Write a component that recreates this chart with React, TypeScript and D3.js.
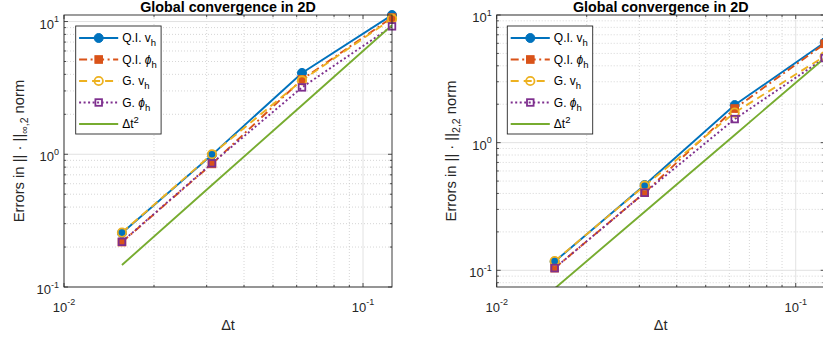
import React from 'react';
import * as d3 from 'd3';

// ---- data ----
const dt = [0.015625, 0.03125, 0.0625, 0.125];
const seriesNames = ['Q.I. v', 'Q.I. ϕ', 'G. v', 'G. ϕ', 'Δt'];
const seriesSub = ['h', 'h', 'h', 'h', ''];
const seriesSup = ['', '', '', '', '2'];
const colors = ['#0072BD', '#D95319', '#EDB120', '#7E2F8E', '#77AC30'];
const dashes = ['', '8,3.5,2,3.5', '8,5', '2,2.5', ''];
const markers = ['circleFilled', 'squareFilled', 'circleOpen', 'squareOpen', 'none'];

// left panel: || . ||_{inf,2}
const leftQIv = [0.255, 0.99, 4.1, 11.2];
const leftQIphi = [0.218, 0.846, 3.66, 10.7];
const leftGv = [0.257, 1.0, 3.6, 10.5];
const leftGphi = [0.219, 0.855, 3.19, 9.2];
const leftRef = [0.1465, 0.586, 2.34, 9.38];

// right panel: || . ||_{2,2}
const rightQIv = [0.117, 0.466, 1.97, 6.1];
const rightQIphi = [0.104, 0.406, 1.85, 5.95];
const rightGv = [0.118, 0.46, 1.72, 4.75];
const rightGphi = [0.104, 0.405, 1.53, 4.6];
const rightRef = [0.072, 0.288, 1.15, 4.6];

const xDomain = [0.01, 0.125];
const leftYDomain = [0.1, 11.2];
const rightYDomain = [0.074, 10];
const titleText = 'Global convergence in 2D';
const xLabelText = 'Δt';
const leftNormSub = '∞,2';
const rightNormSub = '2,2';

const FONT = '"Liberation Sans", Arial, Helvetica, sans-serif';
const AX = '#262626';

type PanelProps = {
  x0: number; x1: number; yTop: number; yBot: number;
  yDomain: number[]; data: number[][]; normSub: string;
  legendX: number; ylabelX: number; id: string;
};

function logTicks(domain: number[]) {
  const major: number[] = [];
  const minor: number[] = [];
  const lo = Math.floor(Math.log10(domain[0]));
  const hi = Math.ceil(Math.log10(domain[1]));
  for (let e = lo; e <= hi; e++) {
    for (let k = 1; k <= 9; k++) {
      const v = k * Math.pow(10, e);
      if (v < domain[0] * 0.9999 || v > domain[1] * 1.0001) continue;
      if (k === 1) major.push(v); else minor.push(v);
    }
  }
  return { major, minor };
}

function Marker({ type, x, y, color }: { type: string; x: number; y: number; color: string }) {
  if (type === 'circleFilled') return <circle cx={x} cy={y} r={4.5} fill={color} stroke={color} strokeWidth={1} />;
  if (type === 'squareFilled') return <rect x={x - 3.8} y={y - 3.8} width={7.6} height={7.6} fill={color} stroke={color} strokeWidth={1} />;
  if (type === 'circleOpen') return <circle cx={x} cy={y} r={4.2} fill="none" stroke={color} strokeWidth={1.8} />;
  if (type === 'squareOpen') return <rect x={x - 3.3} y={y - 3.3} width={6.6} height={6.6} fill="none" stroke={color} strokeWidth={1.8} />;
  return null;
}

function Panel(p: PanelProps) {
  const xs = d3.scaleLog().domain(xDomain).range([p.x0, p.x1]);
  const ys = d3.scaleLog().domain(p.yDomain).range([p.yBot, p.yTop]);
  const xt = logTicks(xDomain);
  const yt = logTicks(p.yDomain);
  const line = d3.line<number>().x((_, i) => xs(dt[i])).y((d) => ys(d));
  const cx = (p.x0 + p.x1) / 2;
  const cy = (p.yTop + p.yBot) / 2;
  const majL = 4, minL = 2.2;
  const lg = { x: p.legendX, y: 26, w: 85.4, h: 108 };
  const rowY = [38, 59.5, 81, 102.5, 124];
  return (
    <g>
      <defs>
        <clipPath id={'clip' + p.id}>
          <rect x={p.x0} y={p.yTop} width={p.x1 - p.x0} height={p.yBot - p.yTop} />
        </clipPath>
      </defs>
      {/* minor grid */}
      {xt.minor.map((v) => (
        <line key={'xm' + v} x1={xs(v)} x2={xs(v)} y1={p.yTop} y2={p.yBot} stroke="#c4c4c4" strokeWidth={0.7} strokeDasharray="1,2" />
      ))}
      {yt.minor.map((v) => (
        <line key={'ym' + v} x1={p.x0} x2={p.x1} y1={ys(v)} y2={ys(v)} stroke="#c4c4c4" strokeWidth={0.7} strokeDasharray="1,2" />
      ))}
      {/* major grid */}
      {xt.major.map((v) => (
        <line key={'xg' + v} x1={xs(v)} x2={xs(v)} y1={p.yTop} y2={p.yBot} stroke="#e2e2e2" strokeWidth={1} />
      ))}
      {yt.major.map((v) => (
        <line key={'yg' + v} x1={p.x0} x2={p.x1} y1={ys(v)} y2={ys(v)} stroke="#e2e2e2" strokeWidth={1} />
      ))}
      {/* ticks */}
      {xt.major.concat(xt.minor).map((v) => {
        const L = xt.major.includes(v) ? majL : minL;
        return (
          <g key={'xt' + v}>
            <line x1={xs(v)} x2={xs(v)} y1={p.yBot} y2={p.yBot - L} stroke={AX} strokeWidth={0.8} />
            <line x1={xs(v)} x2={xs(v)} y1={p.yTop} y2={p.yTop + L} stroke={AX} strokeWidth={0.8} />
          </g>
        );
      })}
      {yt.major.concat(yt.minor).map((v) => {
        const L = yt.major.includes(v) ? majL : minL;
        return (
          <g key={'yt' + v}>
            <line x1={p.x0} x2={p.x0 + L} y1={ys(v)} y2={ys(v)} stroke={AX} strokeWidth={0.8} />
            <line x1={p.x1} x2={p.x1 - L} y1={ys(v)} y2={ys(v)} stroke={AX} strokeWidth={0.8} />
          </g>
        );
      })}
      {/* series lines */}
      <g clipPath={`url(#clip${p.id})`}>
        {p.data.map((s, i) => (
          <path key={'l' + i} d={line(s) || ''} fill="none" stroke={colors[i]} strokeWidth={1.9}
            strokeDasharray={dashes[i] || undefined} />
        ))}
      </g>
      {/* markers */}
      {p.data.map((s, i) => (
        <g key={'m' + i}>
          {s.map((v, j) => (
            <Marker key={j} type={markers[i]} x={xs(dt[j])} y={ys(v)} color={colors[i]} />
          ))}
        </g>
      ))}
      {/* box */}
      <rect x={p.x0} y={p.yTop} width={p.x1 - p.x0} height={p.yBot - p.yTop} fill="none" stroke={AX} strokeWidth={0.9} />
      {/* tick labels */}
      {xt.major.map((v) => (
        <text key={'xl' + v} x={xs(v)} y={311.5} textAnchor="middle" fontFamily={FONT} fontSize={13} fill={AX}>
          10<tspan fontSize={9} dy={-6.5}>{Math.round(Math.log10(v))}</tspan>
        </text>
      ))}
      {yt.major.map((v) => (
        <text key={'yl' + v} x={p.x0 - 5} y={ys(v) + 7} textAnchor="end" fontFamily={FONT} fontSize={13} fill={AX}>
          10<tspan fontSize={9} dy={-6.5}>{Math.round(Math.log10(v))}</tspan>
        </text>
      ))}
      {/* title */}
      <text x={cx} y={12} textAnchor="middle" fontFamily={FONT} fontSize={14.3} fontWeight="bold" fill="#000">{titleText}</text>
      {/* x label */}
      <text x={cx} y={330} textAnchor="middle" fontFamily={FONT} fontSize={14.5} fill={AX}>{xLabelText}</text>
      {/* y label */}
      <text transform={`translate(${p.ylabelX},${cy}) rotate(-90)`} textAnchor="middle" fontFamily={FONT} fontSize={14.8} fill={AX}>
        Errors in || · ||<tspan fontSize={10.5} dy={4}>{p.normSub}</tspan><tspan dy={-4}> norm</tspan>
      </text>
      {/* legend */}
      <rect x={lg.x} y={lg.y} width={lg.w} height={lg.h} fill="#fff" stroke={AX} strokeWidth={0.9} />
      {seriesNames.map((nm, i) => {
        const ly = rowY[i];
        const l0 = lg.x + 3.4, l1 = lg.x + 42.5, mx = lg.x + 23;
        return (
          <g key={'lg' + i}>
            <line x1={l0} x2={l1} y1={ly} y2={ly} stroke={colors[i]} strokeWidth={1.9} strokeDasharray={dashes[i] || undefined} />
            <Marker type={markers[i]} x={mx} y={ly} color={colors[i]} />
            <text x={lg.x + 46.5} y={ly + 4} fontFamily={FONT} fontSize={12} fill="#000">
              {nm.endsWith('ϕ') ? (
                <>{nm.slice(0, -1)}<tspan fontStyle="italic">ϕ</tspan></>
              ) : nm}
              {seriesSub[i] ? <tspan fontSize={9.5} dy={4}>{seriesSub[i]}</tspan> : null}
              {seriesSup[i] ? <tspan fontSize={9.5} dy={-5}>{seriesSup[i]}</tspan> : null}
            </text>
          </g>
        );
      })}
    </g>
  );
}

export default function App() {
  return (
    <svg width={823} height={342} style={{ position: 'absolute', left: 0, top: 0, background: '#fff' }}>
      <rect x={0} y={0} width={823} height={342} fill="#fff" />
      <Panel id="L" x0={64} x1={392} yTop={15} yBot={287} yDomain={leftYDomain}
        data={[leftQIv, leftQIphi, leftGv, leftGphi, leftRef]} normSub={leftNormSub}
        legendX={75.7} ylabelX={24} />
      <Panel id="R" x0={496.7} x1={824.7} yTop={15} yBot={287} yDomain={rightYDomain}
        data={[rightQIv, rightQIphi, rightGv, rightGphi, rightRef]} normSub={rightNormSub}
        legendX={507.3} ylabelX={456} />
    </svg>
  );
}
